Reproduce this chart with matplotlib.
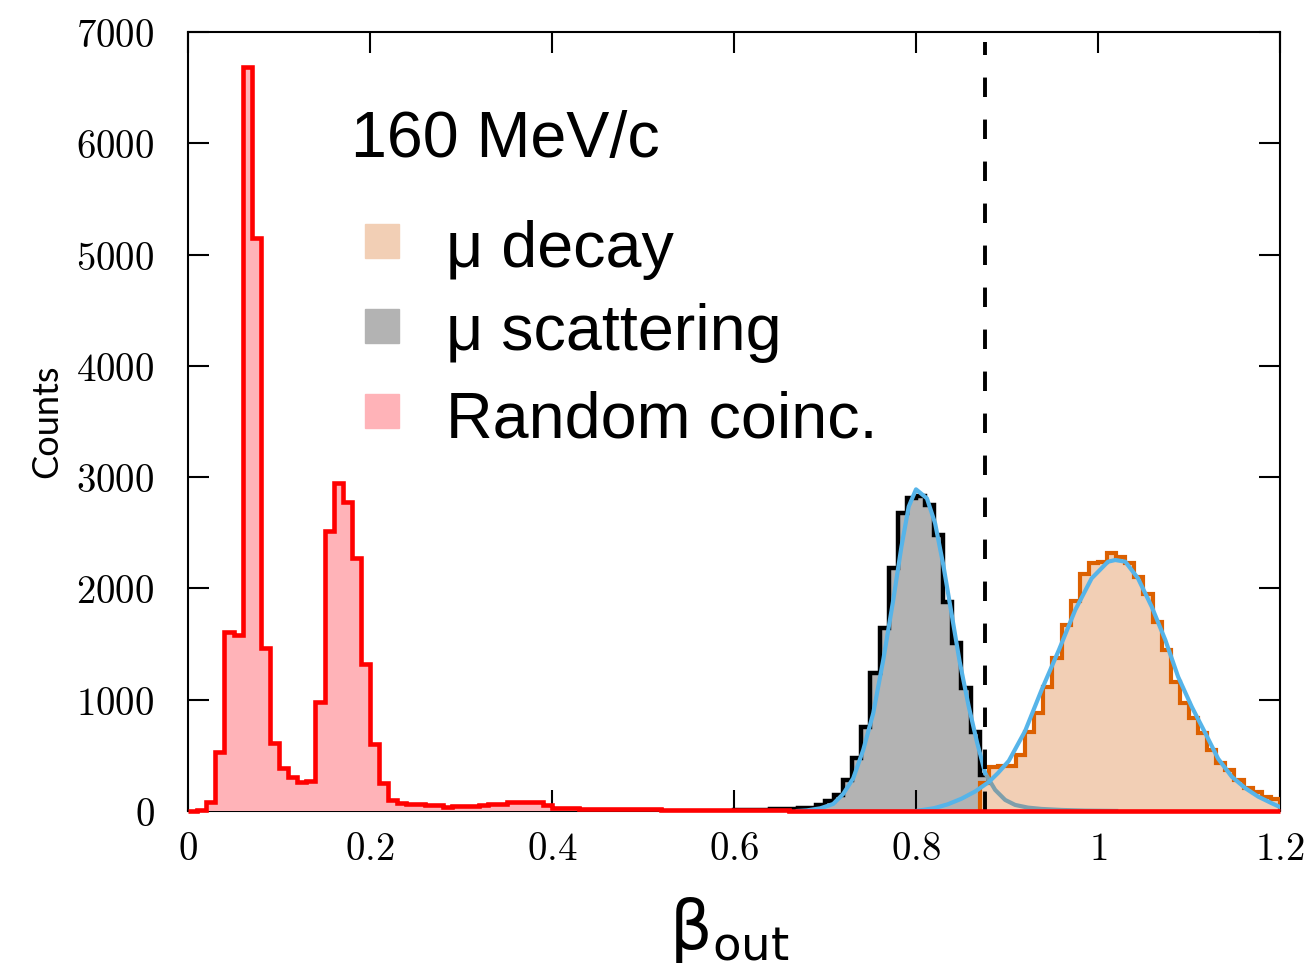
import numpy as np
import matplotlib
matplotlib.use("Agg")
import matplotlib.pyplot as plt
from matplotlib.patches import Rectangle

plt.rcParams["mathtext.fontset"] = "cm"

# bin edges: 0.01 wide bins from 0 to 1.2
bin_width = 0.01

# random coincidences, bins starting at 0.00 ... 1.19
random_counts = [
    0, 5, 80, 530, 1610, 1580, 6685, 5150, 1465, 610,
    385, 305, 260, 270, 980, 2520, 2950, 2780, 2270, 1320,
    600, 250, 100, 70, 65, 60, 58, 50, 35, 45,
    45, 48, 55, 60, 62, 80, 82, 78, 80, 55,
    30, 28, 25, 22, 22, 20, 18, 20, 17, 15,
    14, 15, 13, 12, 12, 10, 10, 12, 9, 8,
    8, 7, 6, 6, 5, 5, 4, 4, 3, 3,
    3, 2, 2, 2, 2, 1, 1, 1, 1, 1,
    1, 1, 1, 1, 1, 0, 0, 0, 0, 0,
    0, 0, 0, 0, 0, 0, 0, 0, 0, 0,
    0, 0, 0, 0, 0, 0, 0, 0, 0, 0,
    0, 0, 0, 0, 0, 0, 0, 0, 0, 0,
]

# muon scattering, bins starting at 0.60 ... 0.87
scat_start = 0.60
scat_counts = [
    5, 8, 10, 12, 15, 18, 20, 24, 28, 50,
    90, 144, 279, 473, 758, 1237, 1641, 2180, 2674, 2809,
    2830, 2749, 2480, 1881, 1507, 1102, 713, 320,
]

# muon decay, bins starting at 0.87 ... 1.19
decay_start = 0.87
decay_counts = [
    249, 398, 405, 400, 503, 713, 877, 1117, 1372, 1671,
    1885, 2125, 2230, 2235, 2315, 2285, 2225, 2100, 1950, 1701,
    1446, 1162, 967, 832, 698, 548, 428, 368, 278, 204,
    174, 129, 105,
]

# fitted curves
scat_fit_x = [0.670, 0.680, 0.695, 0.709, 0.720, 0.731, 0.742, 0.753, 0.764, 0.775,
              0.784, 0.792, 0.800, 0.812, 0.821, 0.830, 0.839, 0.848, 0.858, 0.867, 0.876]
scat_fit_y = [0, 5, 24, 63, 153, 293, 548, 878, 1356, 1895,
              2375, 2735, 2890, 2809, 2585, 2210, 1776, 1341, 937, 620, 340]
scat_tail_x = [0.876, 0.887, 0.898, 0.909, 0.923, 0.938, 0.960, 0.986, 1.020]
scat_tail_y = [340, 189, 99, 54, 30, 18, 9, 3, 0]

decay_fit_x = [0.800, 0.820, 0.835, 0.850, 0.865, 0.880, 0.890, 0.902, 0.912, 0.920,
               0.938, 0.957, 0.975, 0.993, 1.011, 1.019, 1.030, 1.044, 1.059, 1.074,
               1.088, 1.103, 1.118, 1.132, 1.147, 1.162, 1.176, 1.191, 1.199]
decay_fit_y = [0, 25, 60, 110, 175, 260, 340, 450, 600, 720,
               1087, 1446, 1806, 2090, 2240, 2255, 2240, 2090, 1836, 1536,
               1207, 937, 698, 470, 308, 204, 129, 69, 39]

cut_value = 0.876

xticks = [0, 0.2, 0.4, 0.6, 0.8, 1.0, 1.2]
xtick_labels = ["0", "0.2", "0.4", "0.6", "0.8", "1", "1.2"]
yticks = [0, 1000, 2000, 3000, 4000, 5000, 6000, 7000]

legend_labels = ["\u03bc decay", "\u03bc scattering", "Random coinc."]
legend_colors = ["#f2cfb5", "#b3b3b3", "#ffb3b8"]

fig = plt.figure(figsize=(13.12, 9.66), dpi=100)
ax = fig.add_axes([0.1433, 0.1605, 0.8323, 0.8064])

red_edges = np.arange(len(random_counts) + 1) * bin_width
scat_edges = scat_start + np.arange(len(scat_counts) + 1) * bin_width
decay_edges = decay_start + np.arange(len(decay_counts) + 1) * bin_width

ax.stairs(scat_counts, scat_edges, fill=True, color="#b3b3b3", zorder=1)
ax.stairs(scat_counts, scat_edges, color="black", lw=3.2, zorder=2)
ax.stairs(decay_counts, decay_edges, fill=True, color="#f2cfb5", zorder=3)
ax.stairs(decay_counts, decay_edges, color="#dc6000", lw=3, zorder=4)

ax.plot(scat_tail_x, scat_tail_y, color="#7f9fab", lw=3, zorder=5)
ax.plot(scat_fit_x, scat_fit_y, color="#56b4e9", lw=3, zorder=6)
ax.plot(decay_fit_x, decay_fit_y, color="#56b4e9", lw=3, zorder=6)

ax.axvline(cut_value, ymin=0, ymax=0.987, color="black", lw=2.8,
           dashes=(5, 5.8), zorder=7)

ax.stairs(random_counts, red_edges, fill=True, color="#ffb3b8", zorder=8)
ax.stairs(random_counts, red_edges, color="#ff0000", lw=3.3, zorder=9, clip_on=False)

ax.set_xlim(0, 1.2)
ax.set_ylim(0, 7000)
ax.set_xticks(xticks, labels=["$%s$" % t for t in xtick_labels])
ax.set_yticks(yticks, labels=["$%d$" % t for t in yticks])
ax.tick_params(axis="both", direction="in", length=15, width=1.5,
               top=True, right=True, labelsize=28)
ax.tick_params(axis="x", pad=14)
ax.tick_params(axis="y", pad=24)
for s in ax.spines.values():
    s.set_linewidth(1.5)

ax.set_ylabel("Counts", family="Lato", fontsize=26)
ax.yaxis.set_label_coords(-0.114, 0.5)
ax.set_xlabel(r"$\mathrm{\beta}_{\mathrm{out}}$", fontsize=48,
              math_fontfamily="dejavusans")
ax.xaxis.set_label_coords(0.496, -0.108)

fig.text(0.2675, 0.8375, "160 MeV/c", family="Liberation Sans", fontsize=46.5,
         va="baseline")
row_base = [0.7236, 0.6377, 0.5476]
row_patch = [0.7329, 0.6449, 0.5569]
for lab, col, yb, yp in zip(legend_labels, legend_colors, row_base, row_patch):
    fig.patches.append(Rectangle((0.2782, yp), 0.0262, 0.0352, color=col,
                                 transform=fig.transFigure, figure=fig))
    fig.text(0.3399, yb, lab, family="Liberation Sans", fontsize=46.5,
             va="baseline")

fig.savefig("out.png", dpi=100)
